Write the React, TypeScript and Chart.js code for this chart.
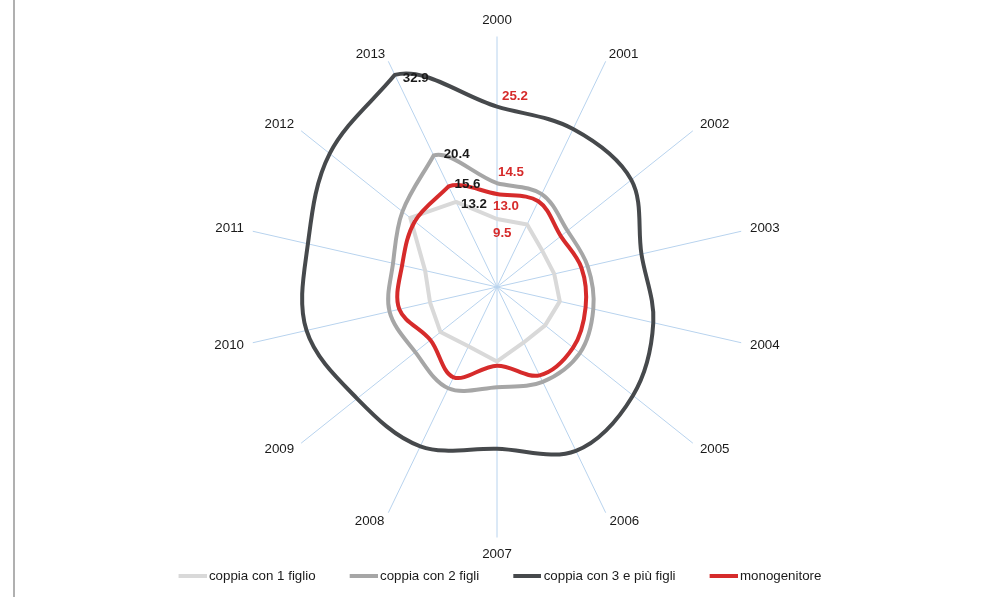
import React, { useEffect, useRef } from "react";
import { Chart, registerables } from "chart.js";

Chart.register(...registerables);

// ---------- data ----------
const years = ["2000", "2001", "2002", "2003", "2004", "2005", "2006", "2007", "2008", "2009", "2010", "2011", "2012", "2013"];
const coppia1Figlio = [9.5, 9.7, 8.1, 8.2, 9.0, 8.6, 8.6, 10.4, 9.2, 10.1, 9.6, 10.3, 15.5, 13.2];
const coppia2Figli = [14.5, 14.4, 12.6, 13.0, 13.8, 14.8, 14.7, 14.0, 15.7, 14.6, 15.4, 14.9, 16.9, 20.4];
const coppia3PiuFigli = [25.2, 24.5, 24.0, 20.7, 22.4, 24.3, 25.4, 22.6, 24.7, 25.0, 27.3, 27.1, 29.9, 32.9];
const monogenitore = [13.0, 13.3, 11.4, 12.1, 12.7, 13.6, 13.7, 11.0, 14.0, 11.9, 14.0, 13.6, 14.7, 15.6];
const seriesLabels = ["coppia con 1 figlio", "coppia con 2 figli", "coppia con 3 e più figli", "monogenitore"];
const scaleMax = 35;

// ---------- styles ----------
const FONT = "'Liberation Sans', Arial, Helvetica, sans-serif";
const FS = 13.33;
const seriesColors = ["#d9d9d9", "#a6a6a6", "#46494c", "#d62b2b"];
const seriesTension = [0, 0.35, 0.35, 0.35];
const seriesOrder = [1, 2, 3, 0];
const firstLabelColor = "#d62b2b";
const lastLabelColor = "#1a1a1a";
const firstLabelOffsets = [[-4, 14], [1, -11], [5, -10], [-4, 12]];
const lastLabelOffsets = [[5, 2.5], [10, -1], [8, 3], [6, -2]];
const LEGEND_BOX = 43.4;
const LEGEND_LINE = 28;
const LEGEND_PAD = 14.33;

function legendIcon(color: string, boxW: number) {
  const c = document.createElement("canvas");
  c.width = Math.round(boxW + 9);
  c.height = 4;
  const g = c.getContext("2d")!;
  g.fillStyle = color;
  g.fillRect(c.width - LEGEND_LINE, 0, LEGEND_LINE, 4);
  return c;
}

// open (non-closed) spline ends for the radar lines
const openEnds = {
  id: "openEnds",
  beforeDatasetsDraw(chart: any) {
    chart.data.datasets.forEach((ds: any, i: number) => {
      const meta = chart.getDatasetMeta(i);
      const line = meta.dataset;
      const t = ds.tension || 0;
      if (!line || !t) return;
      line.updateControlPoints(chart.chartArea, meta.axis);
      const pts = meta.data;
      const n = pts.length;
      const p0 = pts[0];
      const p1 = pts[1];
      p0.cp2x = p0.x + t * (p1.x - p0.x);
      p0.cp2y = p0.y + t * (p1.y - p0.y);
      const pl = pts[n - 1];
      const pp = pts[n - 2];
      pl.cp1x = pl.x - t * (pl.x - pp.x);
      pl.cp1y = pl.y - t * (pl.y - pp.y);
    });
  },
};

const endLabels = {
  id: "endLabels",
  afterDatasetsDraw(chart: any) {
    const ctx = chart.ctx;
    ctx.save();
    ctx.font = `bold ${FS}px ${FONT}`;
    ctx.textAlign = "left";
    ctx.textBaseline = "middle";
    chart.data.datasets.forEach((ds: any, i: number) => {
      const meta = chart.getDatasetMeta(i);
      const n = meta.data.length;
      const first = meta.data[0];
      const last = meta.data[n - 1];
      ctx.fillStyle = firstLabelColor;
      ctx.fillText(Number(ds.data[0]).toFixed(1), first.x + firstLabelOffsets[i][0], first.y + firstLabelOffsets[i][1]);
      ctx.fillStyle = lastLabelColor;
      ctx.fillText(Number(ds.data[n - 1]).toFixed(1), last.x + lastLabelOffsets[i][0], last.y + lastLabelOffsets[i][1]);
    });
    ctx.restore();
  },
};

export default function App() {
  const ref = useRef<HTMLCanvasElement | null>(null);
  useEffect(() => {
    const canvas = ref.current;
    if (!canvas) return;
    const chart = new Chart(canvas, {
      type: "radar",
      data: {
        labels: years,
        datasets: [coppia1Figlio, coppia2Figli, coppia3PiuFigli, monogenitore].map((d, i) => ({
          label: seriesLabels[i],
          data: d,
          borderColor: seriesColors[i],
          backgroundColor: seriesColors[i],
          borderWidth: 4,
          pointRadius: 0,
          pointHoverRadius: 0,
          fill: false,
          tension: seriesTension[i],
          borderJoinStyle: "round" as const,
          order: seriesOrder[i],
          segment: {
            borderColor: (c: any) => (c.p0DataIndex === years.length - 1 ? "rgba(0,0,0,0)" : undefined),
          },
        })),
      },
      options: {
        responsive: false,
        animation: false,
        devicePixelRatio: 1,
        layout: { padding: { top: 19.5, bottom: 4.33, left: 0, right: 8.7 } },
        scales: {
          r: {
            min: 0,
            max: scaleMax,
            ticks: { display: false },
            grid: { display: false },
            angleLines: { color: "#b8d3ee", lineWidth: 1 },
            pointLabels: {
              color: "#1a1a1a",
              padding: (c: any) => (c.index % 7 === 0 ? 16 : c.index === 1 || c.index === 13 ? 7 : 9),
              font: () => ({ family: FONT, size: FS, lineHeight: "1px" }),
            },
          },
        },
        plugins: {
          tooltip: { enabled: false },
          // invisible spacer on the left, keeps the radar centre apart from the legend centre
          title: {
            display: true,
            position: "left",
            text: " ",
            font: { size: 1, lineHeight: 1 },
            padding: { top: 0, bottom: 12.7 },
          },
          legend: {
            position: "bottom",
            labels: {
              usePointStyle: true,
              pointStyleWidth: LEGEND_BOX,
              padding: LEGEND_PAD,
              color: "#1a1a1a",
              font: { family: FONT, size: FS },
              generateLabels: (ch: any) =>
                Chart.defaults.plugins.legend.labels
                  .generateLabels(ch)
                  .map((it: any) => ({ ...it, pointStyle: legendIcon(seriesColors[it.datasetIndex], LEGEND_BOX) }))
                  .sort((a: any, b: any) => a.datasetIndex - b.datasetIndex),
            },
          },
        },
      },
      plugins: [openEnds, endLabels],
    });
    return () => chart.destroy();
  }, []);
  return (
    <div style={{ position: "absolute", left: 0, top: 0, width: 989, height: 597, background: "#fff" }}>
      <div style={{ position: "absolute", left: 13, top: 0, width: 2, height: 597, background: "#b0b0b0" }} />
      <canvas ref={ref} width={989} height={597} style={{ position: "absolute", left: 0, top: 0 }} />
    </div>
  );
}
